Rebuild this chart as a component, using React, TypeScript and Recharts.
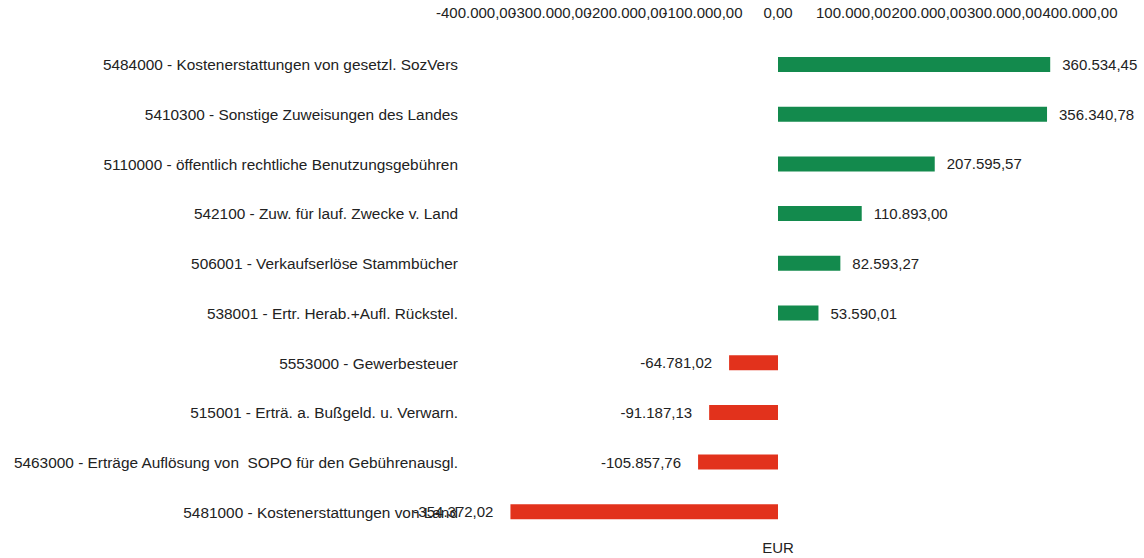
import { BarChart, Bar, XAxis, YAxis, Cell, LabelList } from "recharts";

const categories = [
  "5484000 - Kostenerstattungen von gesetzl. SozVers",
  "5410300 - Sonstige Zuweisungen des Landes",
  "5110000 - öffentlich rechtliche Benutzungsgebühren",
  "542100 - Zuw. für lauf. Zwecke v. Land",
  "506001 - Verkaufserlöse Stammbücher",
  "538001 - Ertr. Herab.+Aufl. Rückstel.",
  "5553000 - Gewerbesteuer",
  "515001 - Erträ. a. Bußgeld. u. Verwarn.",
  "5463000 - Erträge Auflösung von  SOPO für den Gebührenausgl.",
  "5481000 - Kostenerstattungen von Land",
];

const amounts = [
  360534.45, 356340.78, 207595.57, 110893.0, 82593.27, 53590.01, -64781.02,
  -91187.13, -105857.76, -354372.02,
];

const axisTicks = [-400000, -300000, -200000, -100000, 0, 100000, 200000, 300000, 400000];

const GREEN = "#138a4d";
const RED = "#e2321c";
const TEXT = "#222";
const FONT = "'Liberation Sans', Arial, sans-serif";

const data = categories.map((name, i) => ({ name, value: amounts[i] }));

// 1234567.8 -> "1.234.567,80"
function fmtDe(v: number) {
  const neg = v < 0;
  const [int, dec] = Math.abs(v).toFixed(2).split(".");
  const grouped = int.replace(/\B(?=(\d{3})+(?!\d))/g, ".");
  return (neg ? "-" : "") + grouped + "," + dec;
}

function ValueLabel(props: any) {
  const { x, y, width, height, value } = props;
  const left = Math.min(x, x + width);
  const right = Math.max(x, x + width);
  const cy = y + height / 2;
  if (value < 0) {
    return (
      <text x={left - 17} y={cy} textAnchor="end" dominantBaseline="central" fontSize={15} fill={TEXT}>
        {fmtDe(value)}
      </text>
    );
  }
  return (
    <text x={right + 12} y={cy} textAnchor="start" dominantBaseline="central" fontSize={15} fill={TEXT}>
      {fmtDe(value)}
    </text>
  );
}

function CategoryTick(props: any) {
  const { x, y, payload } = props;
  return (
    <text
      x={x}
      y={y}
      textAnchor="end"
      dominantBaseline="central"
      fontSize={15.4}
      fill={TEXT}
      style={{ whiteSpace: "pre" }}
    >
      {payload.value}
    </text>
  );
}

export default function App() {
  return (
    <div style={{ position: "absolute", left: 0, top: 0, width: 1144, height: 558, background: "#fff", fontFamily: FONT }}>
      <BarChart
        width={1144}
        height={558}
        data={data}
        layout="vertical"
        margin={{ top: 0, right: 64, bottom: 0, left: 0 }}
        barSize={15}
      >
        <XAxis
          type="number"
          orientation="top"
          domain={[-400000, 400000]}
          ticks={axisTicks}
          interval={0}
          tickFormatter={fmtDe}
          height={40}
          tickSize={0}
          tickMargin={22}
          axisLine={false}
          tickLine={false}
          tick={{ fontSize: 15, fill: TEXT }}
        />
        <XAxis
          xAxisId="eur"
          type="number"
          orientation="bottom"
          domain={[-400000, 400000]}
          height={21}
          tick={false}
          axisLine={false}
          tickLine={false}
          label={{ value: "EUR", position: "center", fontSize: 15, fill: TEXT }}
        />
        <YAxis
          type="category"
          dataKey="name"
          width={476}
          tickSize={0}
          tickMargin={18}
          axisLine={false}
          tickLine={false}
          interval={0}
          tick={<CategoryTick />}
        />
        <Bar dataKey="value" isAnimationActive={false}>
          {data.map((d, i) => (
            <Cell key={i} fill={d.value < 0 ? RED : GREEN} />
          ))}
          <LabelList dataKey="value" content={<ValueLabel />} />
        </Bar>
      </BarChart>
    </div>
  );
}
